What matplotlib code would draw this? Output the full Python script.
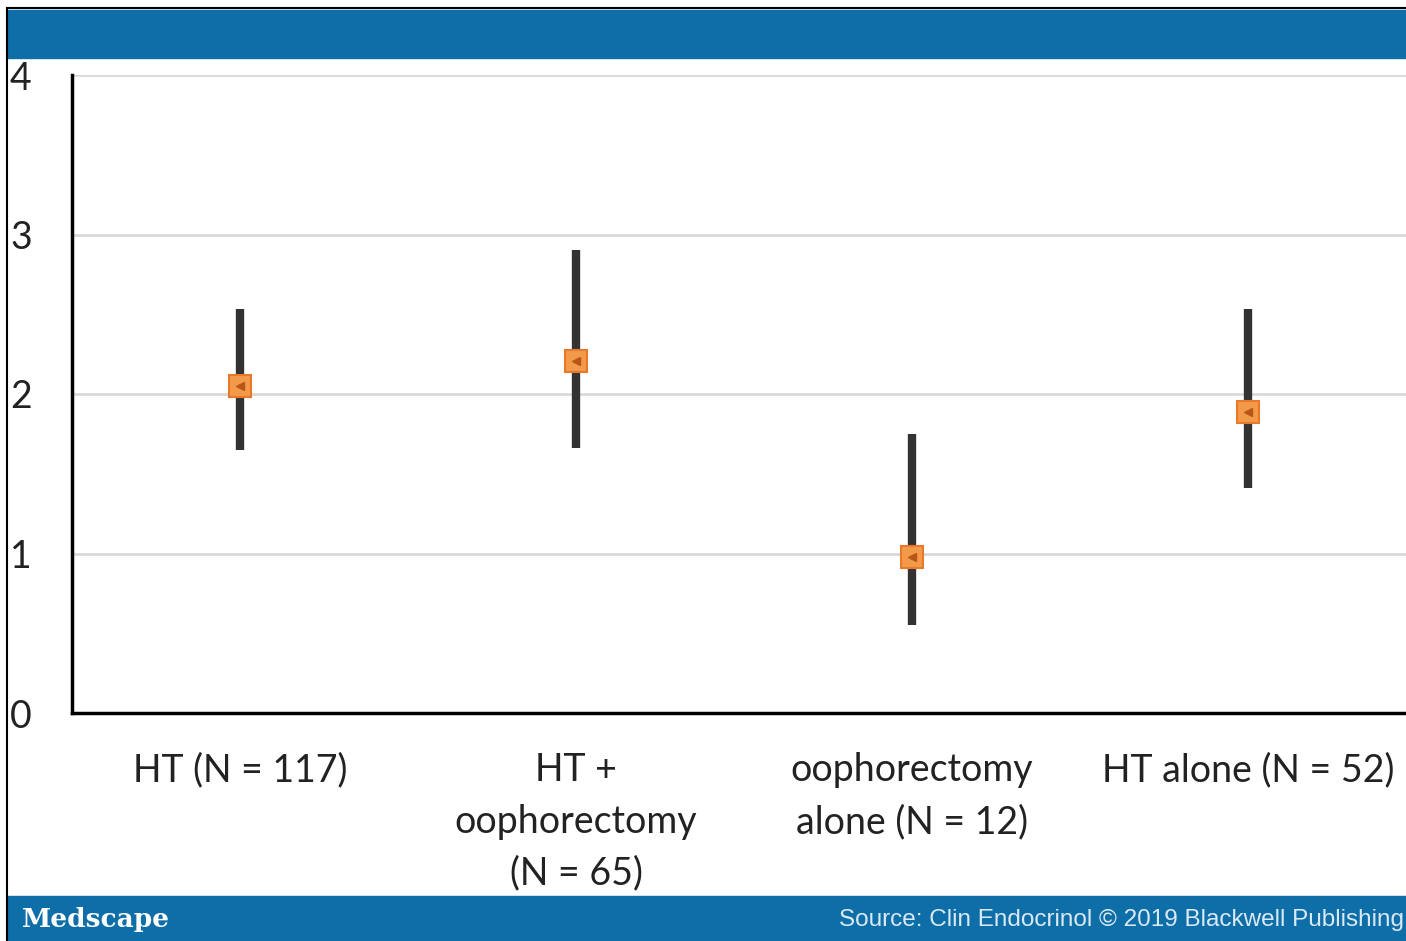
import matplotlib.pyplot as plt
from matplotlib.patches import Rectangle
from matplotlib.lines import Line2D

# data
groups = ["HT (N = 117)", "HT +\noophorectomy\n(N = 65)",
          "oophorectomy\nalone (N = 12)", "HT alone (N = 52)"]
estimate = [2.05, 2.21, 0.98, 1.89]
lower = [1.65, 1.66, 0.55, 1.41]
upper = [2.53, 2.90, 1.75, 2.53]
y_ticks = [0, 1, 2, 3, 4]

W, H = 1406, 941
fig = plt.figure(figsize=(W / 100, H / 100), dpi=100)
plt.rcParams["font.family"] = ["Lato", "DejaVu Sans"]

blue = "#0d6ea8"


def fx(px):
    return px / W


def fy(py):
    return 1 - py / H


# banners and frame
fig.patches.append(Rectangle((fx(8), fy(58)), 1, fy(10) - fy(58),
                             transform=fig.transFigure, color=blue, zorder=0))
fig.patches.append(Rectangle((fx(8), 0), 1, fy(896),
                             transform=fig.transFigure, color=blue, zorder=0))
fig.lines.append(Line2D([fx(7), fx(7)], [fy(8), 0], transform=fig.transFigure,
                        color="black", lw=1.5))
fig.lines.append(Line2D([fx(7), 1], [fy(8), fy(8)], transform=fig.transFigure,
                        color="black", lw=1.5))
fig.text(fx(22), fy(919), "Medscape", color="white", fontsize=19,
         family="DejaVu Serif", weight="bold", va="center", ha="left")
fig.text(fx(1404), fy(920), "Source: Clin Endocrinol \u00a9 2019 Blackwell Publishing",
         color="#dbe9f5", fontsize=17.5, family="Liberation Sans",
         va="center", ha="right")

ax = fig.add_axes([fx(72), fy(713), fx(1416) - fx(72), fy(75) - fy(713)])
x = [i + 0.5 for i in range(len(groups))]

ax.vlines(x, lower, upper, color="#333333", lw=6, zorder=3)
ax.plot(x, estimate, ls="none", marker="s", ms=16, mfc="#f39a4a",
        mec="#e8782a", mew=1.5, zorder=4)
ax.plot(x, estimate, ls="none", marker="<", ms=6, color="#b8561a", zorder=5)

ax.set_xlim(0, len(groups))
ax.set_ylim(0, 4)
ax.set_yticks(y_ticks)
ax.set_yticklabels([str(t) for t in y_ticks], fontsize=27, color="#222222")
ax.set_xticks(x)
ax.set_xticklabels(groups, fontsize=27, color="#222222", linespacing=1.55)
ax.tick_params(axis="y", length=0, pad=29)
ax.tick_params(axis="x", length=0, pad=28)
ax.grid(axis="y", color="#d9d9d9", lw=2)
ax.set_axisbelow(True)
for s in ["top", "right"]:
    ax.spines[s].set_visible(False)
ax.spines["left"].set_linewidth(2.5)
ax.spines["bottom"].set_linewidth(2.5)

fig.savefig("out.png", dpi=100)
